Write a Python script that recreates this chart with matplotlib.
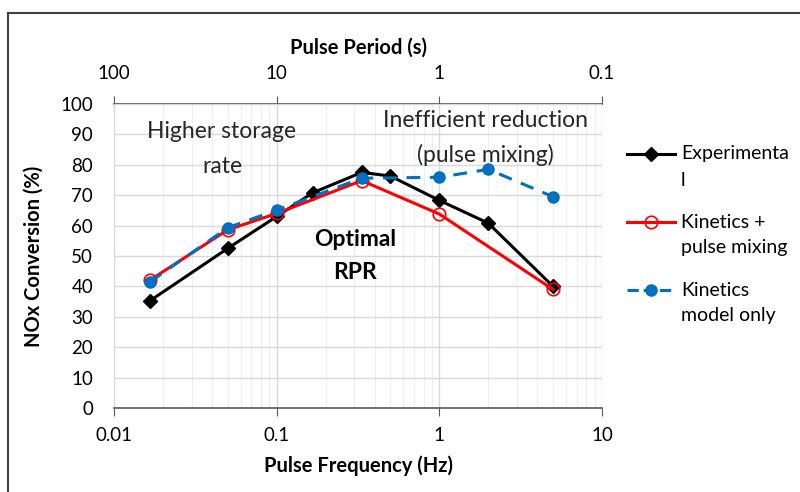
import matplotlib
matplotlib.use("Agg")
import matplotlib.pyplot as plt
from matplotlib.lines import Line2D
from matplotlib.ticker import LogLocator, FixedLocator, NullFormatter, FuncFormatter

plt.rcParams['font.family'] = ['Lato', 'DejaVu Sans']

# Data
freq_exp = [1/60, 0.05, 0.1, 1/6, 1/3, 0.5, 1, 2, 5]
conv_exp = [35.3, 52.5, 63.0, 70.8, 77.5, 76.3, 68.3, 60.8, 40.0]
freq_kpm = [1/60, 0.05, 0.1, 1/3, 1, 5]
conv_kpm = [42.1, 58.6, 64.0, 74.8, 63.8, 39.0]
freq_k = [1/60, 0.05, 0.1, 1/3, 1, 2, 5]
conv_k = [41.5, 59.3, 65.1, 75.6, 75.9, 78.5, 69.5]
labels = ["Experimenta\nl", "Kinetics +\npulse mixing", "Kinetics\nmodel only"]

W, H = 800, 492
fig = plt.figure(figsize=(8, 4.92), dpi=100)
ax = fig.add_axes([114/W, 1-408/H, (602-114)/W, (408-104)/H])

ax.set_xscale('log')
ax.set_xlim(0.01, 10)
ax.set_ylim(0, 100)
ax.set_yticks(range(0, 101, 10))

ax.xaxis.set_major_locator(LogLocator(base=10, numticks=10))
ax.xaxis.set_minor_locator(LogLocator(base=10, subs=range(2, 10), numticks=20))
ax.xaxis.set_minor_formatter(NullFormatter())
ax.xaxis.set_major_formatter(FuncFormatter(lambda v, p: f"{v:g}"))

ax.grid(True, which='major', axis='both', color='#d9d9d9', lw=1)
ax.grid(True, which='minor', axis='x', color='#efefef', lw=0.8)
ax.set_axisbelow(True)

for s in ['top', 'right']:
    ax.spines[s].set_visible(False)
ax.spines['left'].set_color('#d9d9d9')
ax.spines['bottom'].set_color('#595959')
ax.spines['bottom'].set_linewidth(1.2)
ax.tick_params(axis='y', length=0, labelsize=13.5, pad=15, colors='black')
ax.tick_params(axis='x', which='major', direction='out', length=6, color='#595959',
               labelsize=13.5, pad=8)
ax.tick_params(axis='x', which='minor', length=0)

l1, = ax.plot(freq_exp, conv_exp, color='black', lw=2.2, marker='D', ms=7,
              mfc='black', mec='black', label=labels[0], zorder=3)
l2, = ax.plot(freq_kpm, conv_kpm, color='#ff0000', lw=2.2, marker='o', ms=9,
              mfc='none', mec='#ff0000', mew=1.2, label=labels[1], zorder=4)
l3, = ax.plot(freq_k, conv_k, color='#0070c0', lw=2.2, ls=(0, (4.5, 3.2)), marker='o', ms=8,
              mfc='#0070c0', mec='#0070c0', label=labels[2], zorder=5)

ax.set_xlabel('Pulse Frequency (Hz)', fontsize=14.5, fontweight='bold', labelpad=8)
ax.set_ylabel('NOx Conversion (%)', fontsize=14.5, fontweight='bold', labelpad=12)

sec = ax.secondary_xaxis('top', functions=(lambda x: 1/x, lambda x: 1/x))
sec.xaxis.set_major_locator(FixedLocator([100, 10, 1, 0.1]))
sec.xaxis.set_minor_locator(FixedLocator([]))
sec.xaxis.set_major_formatter(FuncFormatter(lambda v, p: f"{v:g}"))
sec.spines['top'].set_color('#595959')
sec.spines['top'].set_linewidth(1.2)
sec.tick_params(axis='x', direction='out', length=6, color='#595959', labelsize=13.5, pad=10)
sec.set_xlabel('Pulse Period (s)', fontsize=14.5, fontweight='bold', labelpad=8)

tc = '#262626'
ax.text(0.0461, 90.8, 'Higher storage', ha='center', va='center', fontsize=16.5, color=tc)
ax.text(0.0461, 79.3, 'rate', ha='center', va='center', fontsize=16.5, color=tc)
ax.text(1.93, 94.7, 'Inefficient reduction', ha='center', va='center', fontsize=16.5, color=tc)
ax.text(1.93, 83.2, '(pulse mixing)', ha='center', va='center', fontsize=16.5, color=tc)
ax.text(0.303, 55.3, 'Optimal', ha='center', va='center', fontsize=16.5, fontweight='bold',
        color='black')
ax.text(0.303, 44.7, 'RPR', ha='center', va='center', fontsize=16.5, fontweight='bold',
        color='black')

# Legend (handle aligned with first line of each label, as in the reference)
for ln, lab, ypx in zip([l1, l2, l3], labels, [154, 222, 290]):
    yf = 1 - ypx / H
    fig.add_artist(Line2D([627/W, 675/W], [yf, yf], transform=fig.transFigure,
                          color=ln.get_color(), lw=ln.get_linewidth(),
                          ls=ln.get_linestyle()))
    fig.add_artist(Line2D([651/W], [yf], transform=fig.transFigure, ls='none',
                          marker=ln.get_marker(), ms=ln.get_markersize(),
                          mfc=ln.get_markerfacecolor(), mec=ln.get_markeredgecolor(),
                          mew=ln.get_markeredgewidth()))
    for i, part in enumerate(lab.split('\n')):
        fig.text(681/W, 1 - (ypx + 26*i)/H, part, ha='left', va='center',
                 fontsize=14, color='black')

fig.add_artist(Line2D([8/W, 8/W], [0, 1-13/H], transform=fig.transFigure,
                      color='#404040', lw=1.5))
fig.add_artist(Line2D([8/W, 1], [1-13/H, 1-13/H], transform=fig.transFigure,
                      color='#404040', lw=1.5))

fig.savefig('out.png', dpi=100)
